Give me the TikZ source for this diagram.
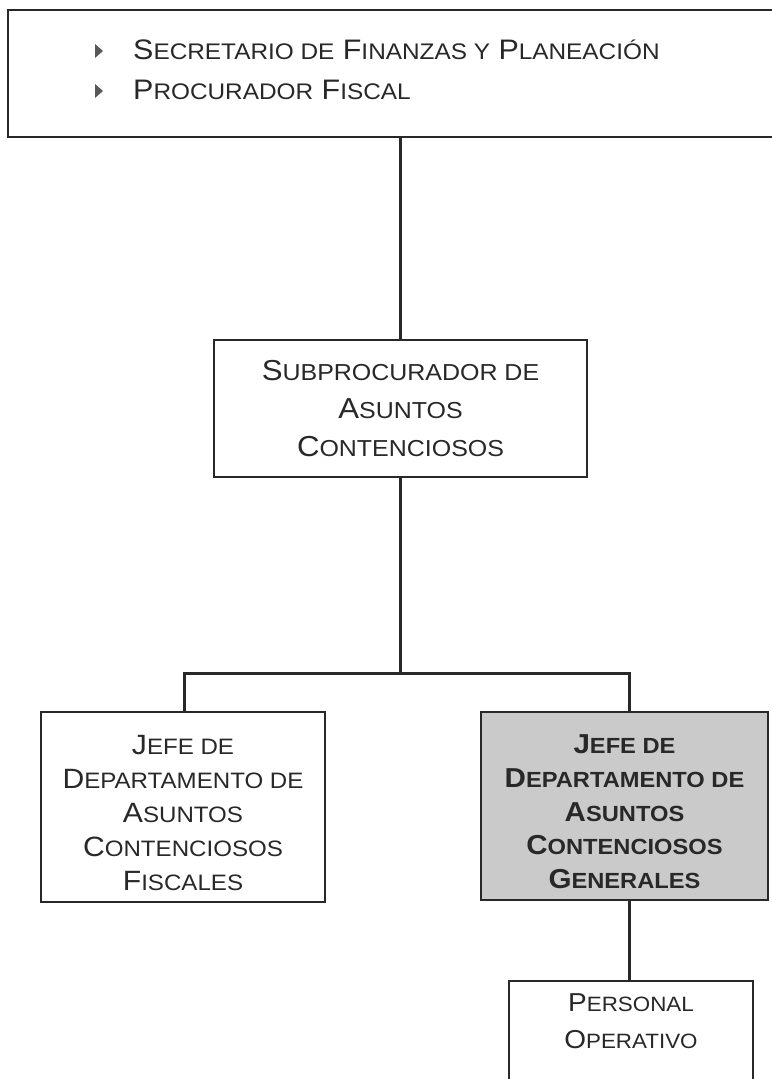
\documentclass[tikz,border=0pt]{standalone}
\usepackage{fontspec}
\setmainfont[FakeStretch=1.08]{Liberation Sans}
\makeatletter
\newcommand\sm[1]{{\fontsize{\the\dimexpr0.8\dimexpr\f@size pt\relax\relax}{\f@baselineskip}\selectfont #1}}
\makeatother
\definecolor{linec}{RGB}{40,40,40}
\definecolor{txtc}{RGB}{40,40,40}
\definecolor{shade}{RGB}{202,202,202}
\begin{document}
\begin{tikzpicture}[x=1bp,y=-1bp,
  box/.style={draw=linec, line width=1.5bp, fill=white, inner sep=0pt},
  txt/.style={text=txtc, align=center, inner sep=0pt},
  conn/.style={draw=linec, line width=3bp},
  bul/.style={fill=black!65}]
\useasboundingbox (0,0) rectangle (772,1079);
\fill[white] (0,0) rectangle (772,1079);
% top box
\node[box, line width=2bp, anchor=north west, minimum width=790bp, minimum height=127bp] (top) at (7,9) {};
\node[txt, align=left, anchor=west, font=\fontsize{28.3}{40}\selectfont] (toptxt) at (133,70)
  {S\sm{ECRETARIO DE} F\sm{INANZAS Y} P\sm{LANEACIÓN}\\
   P\sm{ROCURADOR} F\sm{ISCAL}};
\fill[bul] (95,44) -- (103,51) -- (95,58) -- cycle;
\fill[bul] (95,84) -- (103,91) -- (95,98) -- cycle;
% middle
\node[box, minimum width=373bp, minimum height=137bp] (sub) at (400.5,408.5) {};
\node[txt, font=\fontsize{29}{38.5}\selectfont] (subtxt) at (400.5,408.5)
  {S\sm{UBPROCURADOR DE}\\ A\sm{SUNTOS}\\ C\sm{ONTENCIOSOS}};
% left
\node[box, minimum width=284bp, minimum height=190bp] (fis) at (183,807) {};
\node[txt, font=\fontsize{28}{34.2}\selectfont] (fistxt) at (183,813)
  {J\sm{EFE DE}\\ D\sm{EPARTAMENTO DE}\\ A\sm{SUNTOS}\\ C\sm{ONTENCIOSOS}\\ F\sm{ISCALES}};
% right shaded
\node[box, fill=shade, line width=2bp, minimum width=287bp, minimum height=188bp] (gen) at (624.5,806) {};
\node[txt, font=\fontsize{27.5}{33.8}\selectfont\bfseries] (gentxt) at (624.5,812)
  {J\sm{EFE DE}\\ D\sm{EPARTAMENTO DE}\\ A\sm{SUNTOS}\\ C\sm{ONTENCIOSOS}\\ G\sm{ENERALES}};
% bottom
\node[box, minimum width=244bp, minimum height=129bp] (per) at (631,1045.5) {};
\node[txt, font=\fontsize{26}{37}\selectfont] (pertxt) at (631,1021)
  {P\sm{ERSONAL}\\ O\sm{PERATIVO}};
% connectors
\coordinate (bl) at (184,673);
\coordinate (br) at (629,673);
\draw[conn] (top.south -| sub.north) -- (sub.north);
\draw[conn] (sub.south) -- (sub.south |- bl);
\draw[conn] (fis.north -| bl) -- (bl) -- (br) -- (gen.north -| br);
\draw[conn] (gen.south -| br) -- (per.north -| br);
\end{tikzpicture}
\end{document}
